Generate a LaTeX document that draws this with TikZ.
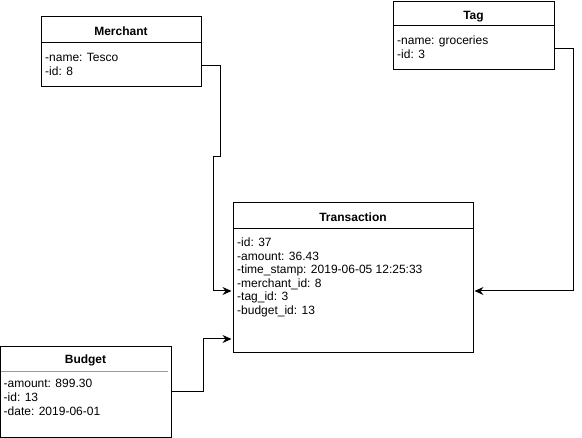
\documentclass[tikz,border=0pt]{standalone}
\usepackage{fontspec}
\setmainfont{Liberation Sans}
\usetikzlibrary{arrows.meta,calc}
\tikzset{
 umlbox/.style={draw=black, line width=1pt, rectangle, inner sep=0pt, outer sep=0pt, anchor=north west},
 ttl/.style={font=\bfseries\fontsize{12pt}{13.6pt}\selectfont, anchor=base, inner sep=0pt},
 attr/.style={font=\fontsize{12pt}{13.6pt}\selectfont, align=left, anchor=base west, inner sep=0pt},
 divider/.style={line width=1pt, draw=black},
 graydivider/.style={line width=1pt, draw=black!40},
 conn/.style={line width=1pt, -{Stealth[length=9pt,width=8pt,inset=3pt]}, shorten >=1.5pt},
}
\begin{document}
\begin{tikzpicture}[x=1pt,y=-1pt]
\useasboundingbox (0,0) rectangle (582,438);
% Merchant
\node[umlbox, minimum width=160pt, minimum height=70pt] (merchant) at (41,17) {};
\draw[divider] (merchant.west |- 0,43) -- (merchant.east |- 0,43);
\node[ttl] (merchantT) at (121,35.5) {Merchant};
\node[attr] (merchantA) at (45,75.1) {-name: Tesco\\-id: 8};
% Tag
\node[umlbox, minimum width=161pt, minimum height=68.5pt] (tag) at (393,1.5) {};
\draw[divider] (tag.west |- 0,26) -- (tag.east |- 0,26);
\node[ttl] (tagT) at (473.5,20) {Tag};
\node[attr] (tagA) at (397,58.1) {-name: groceries\\-id: 3};
% Transaction
\node[umlbox, minimum width=240pt, minimum height=150pt] (trans) at (233,203) {};
\draw[divider] (trans.west |- 0,229) -- (trans.east |- 0,229);
\node[ttl] (transT) at (353,221.5) {Transaction};
\node[attr] (transA) at (237,314.5) {-id: 37\\-amount: 36.43\\-time\_stamp: 2019-06-05 12:25:33\\-merchant\_id: 8\\-tag\_id: 3\\-budget\_id: 13};
% Budget
\node[umlbox, minimum width=170.5pt, minimum height=90.5pt] (budget) at (0.5,347) {};
\draw[graydivider] (0.5,372) -- (168,372);
\node[ttl] (budgetT) at (85.5,363.5) {Budget};
\node[attr] (budgetA) at (3.5,415.2) {-amount: 899.30\\-id: 13\\-date: 2019-06-01};
% connectors
\draw[conn] ($(merchant.north east)+(0,49)$) -- (220,66) -- (220,157) -- (213,157) -- (213,291) -- ($(trans.north west)+(0,88)$);
\draw[conn] ($(tag.north east)+(0,47.5)$) -- (573,49) -- (573,291) -- ($(trans.north east)+(0,88)$);
\draw[conn] ($(budget.north east)+(0,45)$) -- (203,392) -- (203,339) -- ($(trans.north west)+(0,136)$);
\end{tikzpicture}
\end{document}
